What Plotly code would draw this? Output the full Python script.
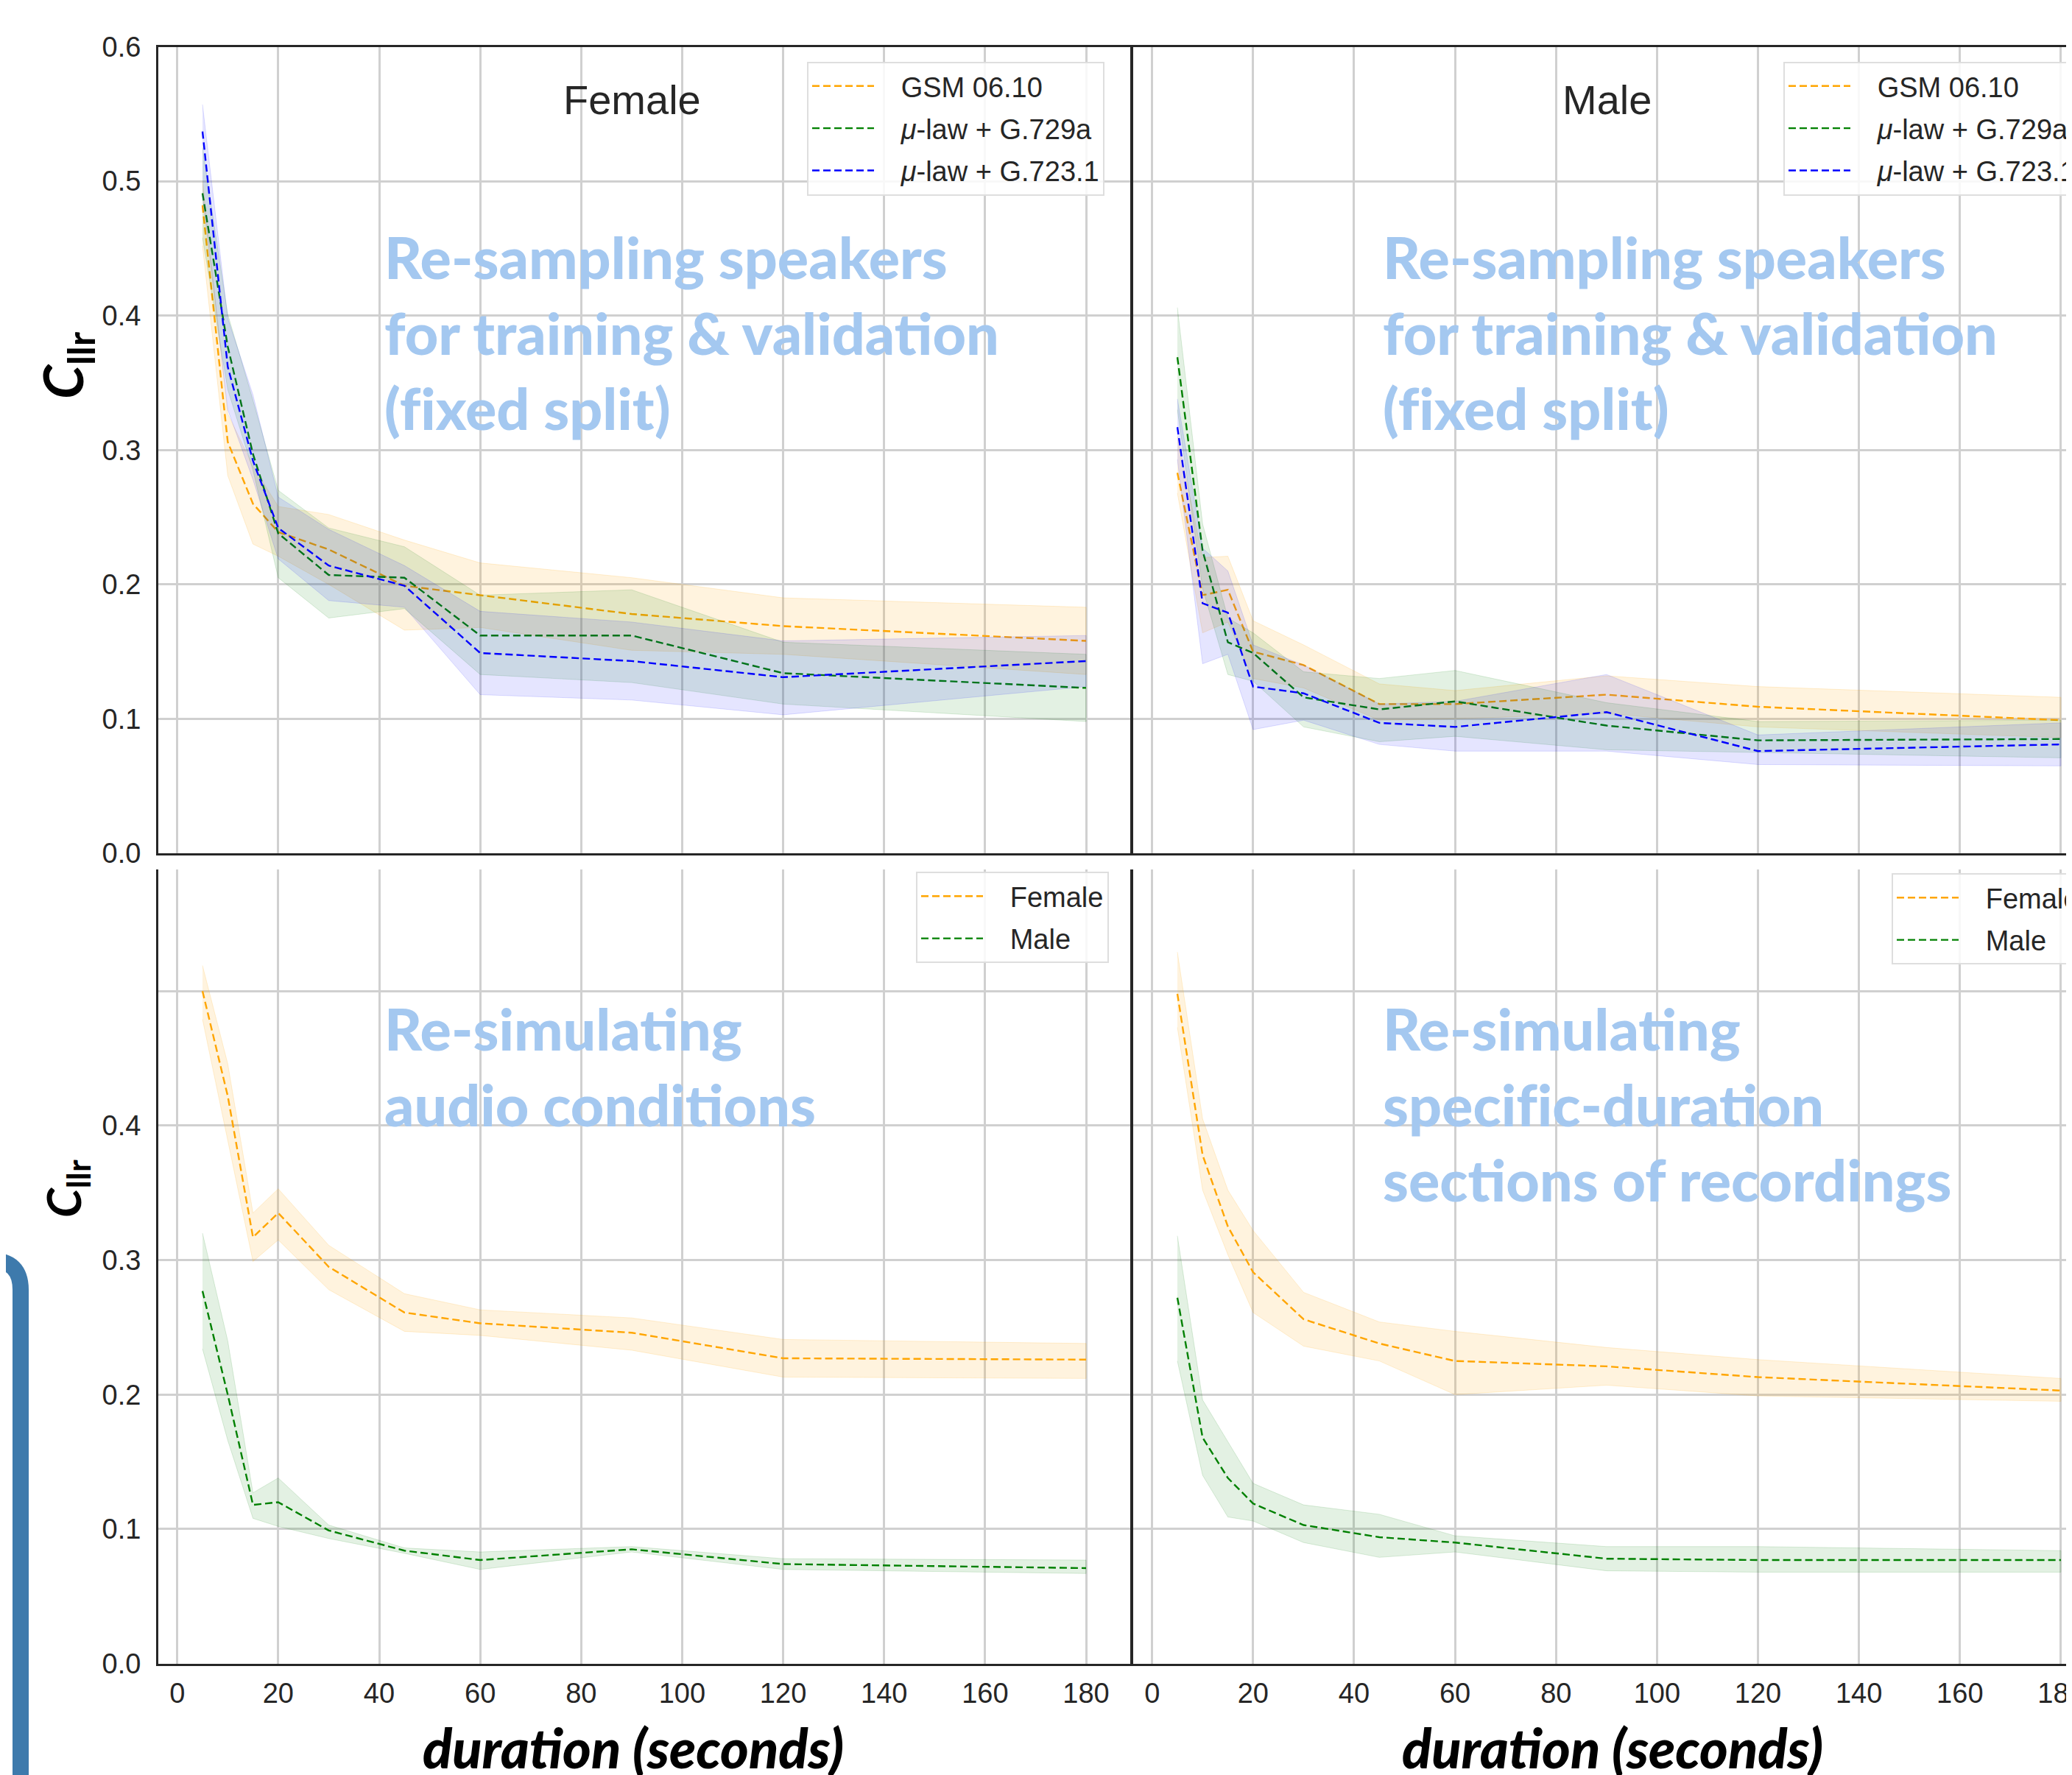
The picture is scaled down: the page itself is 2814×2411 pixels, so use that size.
import plotly.graph_objects as go

W, H = 2814, 2411
PAGE_OFFSET = 8  # default body margin of the html page

# ---------------- data ----------------
DURATION = [5, 10, 15, 20, 30, 45, 60, 90, 120, 180]
X_TICKS = [0, 20, 40, 60, 80, 100, 120, 140, 160, 180]
Y_TICKS_TOP = [0.0, 0.1, 0.2, 0.3, 0.4, 0.5, 0.6]
Y_TEXT_TOP = ["0.0", "0.1", "0.2", "0.3", "0.4", "0.5", "0.6"]
Y_TICKS_BOTTOM = [0.0, 0.1, 0.2, 0.3, 0.4]
Y_TEXT_BOTTOM = ["0.0", "0.1", "0.2", "0.3", "0.4"]
Y_GRID_BOTTOM_EXTRA = [0.5]

CODEC_NAMES = ["GSM 06.10", "<i>μ</i>-law + G.729a", "<i>μ</i>-law + G.723.1"]
SEX_NAMES = ["Female", "Male"]

# top-left: female, re-sampling speakers
gsm_f = [0.482, 0.306, 0.260, 0.239, 0.226, 0.199, 0.192, 0.178, 0.169, 0.158]
gsm_f_lo = [0.452, 0.281, 0.230, 0.221, 0.200, 0.166, 0.168, 0.151, 0.148, 0.133]
gsm_f_hi = [0.500, 0.327, 0.288, 0.258, 0.252, 0.233, 0.216, 0.205, 0.190, 0.183]
g729_f = [0.491, 0.377, 0.297, 0.238, 0.207, 0.205, 0.162, 0.162, 0.134, 0.123]
g729_f_lo = [0.458, 0.345, 0.285, 0.205, 0.175, 0.182, 0.133, 0.127, 0.111, 0.098]
g729_f_hi = [0.525, 0.401, 0.337, 0.270, 0.242, 0.228, 0.192, 0.196, 0.157, 0.148]
g723_f = [0.537, 0.362, 0.292, 0.242, 0.214, 0.199, 0.149, 0.143, 0.131, 0.143]
g723_f_lo = [0.490, 0.330, 0.278, 0.219, 0.188, 0.183, 0.118, 0.114, 0.103, 0.124]
g723_f_hi = [0.557, 0.398, 0.341, 0.265, 0.241, 0.214, 0.180, 0.172, 0.158, 0.162]

# top-right: male, re-sampling speakers
gsm_m = [0.283, 0.192, 0.196, 0.150, 0.140, 0.111, 0.111, 0.118, 0.109, 0.099]
gsm_m_lo = [0.268, 0.164, 0.172, 0.130, 0.123, 0.099, 0.100, 0.104, 0.094, 0.086]
gsm_m_hi = [0.310, 0.220, 0.221, 0.173, 0.155, 0.126, 0.121, 0.132, 0.124, 0.116]
g729_m = [0.369, 0.225, 0.157, 0.149, 0.116, 0.107, 0.113, 0.095, 0.084, 0.085]
g729_m_lo = [0.330, 0.197, 0.133, 0.128, 0.094, 0.083, 0.087, 0.077, 0.075, 0.071]
g729_m_hi = [0.406, 0.245, 0.175, 0.164, 0.135, 0.130, 0.136, 0.112, 0.098, 0.099]
g723_m = [0.317, 0.186, 0.179, 0.124, 0.119, 0.097, 0.094, 0.105, 0.076, 0.081]
g723_m_lo = [0.293, 0.141, 0.148, 0.092, 0.099, 0.081, 0.076, 0.076, 0.066, 0.065]
g723_m_hi = [0.338, 0.227, 0.210, 0.155, 0.140, 0.111, 0.113, 0.133, 0.088, 0.097]

# bottom-left: re-simulating audio conditions
ac_f = [0.500, 0.422, 0.317, 0.335, 0.295, 0.261, 0.253, 0.246, 0.227, 0.226]
ac_f_lo = [0.479, 0.389, 0.299, 0.315, 0.278, 0.247, 0.244, 0.233, 0.213, 0.212]
ac_f_hi = [0.519, 0.446, 0.335, 0.353, 0.311, 0.275, 0.263, 0.257, 0.241, 0.238]
ac_m = [0.277, 0.200, 0.118, 0.120, 0.099, 0.084, 0.077, 0.085, 0.074, 0.071]
ac_m_lo = [0.234, 0.166, 0.108, 0.102, 0.093, 0.082, 0.070, 0.083, 0.070, 0.067]
ac_m_hi = [0.320, 0.240, 0.127, 0.138, 0.103, 0.086, 0.083, 0.087, 0.078, 0.077]

# bottom-right: re-simulating specific-duration sections
sd_f = [0.498, 0.378, 0.325, 0.291, 0.256, 0.238, 0.225, 0.221, 0.213, 0.203]
sd_f_lo = [0.473, 0.352, 0.304, 0.261, 0.236, 0.225, 0.200, 0.207, 0.199, 0.195]
sd_f_hi = [0.529, 0.405, 0.352, 0.322, 0.276, 0.254, 0.247, 0.235, 0.226, 0.212]
sd_m = [0.272, 0.168, 0.138, 0.119, 0.103, 0.094, 0.090, 0.078, 0.077, 0.077]
sd_m_lo = [0.225, 0.140, 0.109, 0.106, 0.090, 0.079, 0.083, 0.069, 0.068, 0.068]
sd_m_hi = [0.318, 0.196, 0.165, 0.134, 0.118, 0.111, 0.095, 0.087, 0.087, 0.084]

# ---------------- styles ----------------
ORANGE = (255, 165, 0)
GREEN = (0, 128, 0)
BLUE = (0, 0, 255)
BAND_ALPHA = {ORANGE: 0.13, GREEN: 0.11, BLUE: 0.10}
SANS = "Liberation Sans, Arial, sans-serif"
HUMANIST = "Lato, Open Sans, sans-serif"
INK = "#262626"
NOTE_COLOR = "rgb(164,200,240)"
ZWNJ = "\u200c"  # keeps "f" and "i" as separate glyphs
LEGEND_PAD = "\u00a0\u00a0\u00a0"  # gap between legend line and label


def px(x):
    return (x - PAGE_OFFSET) / W


def py(y):
    return 1 - (y - PAGE_OFFSET) / H


fig = go.Figure()
_group = [0]


def add_series(mean, lo, hi, rgb, name, xa, ya, legend):
    a = BAND_ALPHA[rgb]
    band = "rgba(%d,%d,%d,%.3f)" % (rgb + (a,))
    fig.add_trace(go.Scatter(
        x=DURATION + DURATION[::-1], y=hi + lo[::-1],
        fill="toself", fillcolor=band, mode="lines",
        line=dict(width=1, color="rgba(%d,%d,%d,%.3f)" % (rgb + (a * 1.3,))),
        hoverinfo="skip", showlegend=False, xaxis=xa, yaxis=ya))
    _group[0] += 1
    fig.add_trace(go.Scatter(
        x=DURATION, y=mean, mode="lines", name=LEGEND_PAD + name,
        line=dict(color="rgb(%d,%d,%d)" % rgb, width=2.4, dash="10px,5px"),
        xaxis=xa, yaxis=ya, legend=legend, legendgroup="g%d" % _group[0]))


add_series(gsm_f, gsm_f_lo, gsm_f_hi, ORANGE, CODEC_NAMES[0], "x", "y", "legend")
add_series(g729_f, g729_f_lo, g729_f_hi, GREEN, CODEC_NAMES[1], "x", "y", "legend")
add_series(g723_f, g723_f_lo, g723_f_hi, BLUE, CODEC_NAMES[2], "x", "y", "legend")

add_series(gsm_m, gsm_m_lo, gsm_m_hi, ORANGE, CODEC_NAMES[0], "x2", "y2", "legend2")
add_series(g729_m, g729_m_lo, g729_m_hi, GREEN, CODEC_NAMES[1], "x2", "y2", "legend2")
add_series(g723_m, g723_m_lo, g723_m_hi, BLUE, CODEC_NAMES[2], "x2", "y2", "legend2")

add_series(ac_f, ac_f_lo, ac_f_hi, ORANGE, SEX_NAMES[0], "x3", "y3", "legend3")
add_series(ac_m, ac_m_lo, ac_m_hi, GREEN, SEX_NAMES[1], "x3", "y3", "legend3")

add_series(sd_f, sd_f_lo, sd_f_hi, ORANGE, SEX_NAMES[0], "x4", "y4", "legend4")
add_series(sd_m, sd_m_lo, sd_m_hi, GREEN, SEX_NAMES[1], "x4", "y4", "legend4")

# ---------------- axes ----------------
X_LEFT = [px(215), px(1535)]
X_RIGHT = [px(1539), 1.0]
Y_TOP = [py(1159), py(63.5)]
Y_BOTTOM = [py(2259.7), py(1181)]
RANGE_LEFT = [-3.75, 188.75]
RANGE_RIGHT = [-3.75, 183.36]
GRID = "#d0d0d0"

tickfont = dict(family=SANS, size=38, color=INK)
common = dict(showgrid=True, gridcolor=GRID, gridwidth=2.5, zeroline=False,
              showline=True, linecolor=INK, linewidth=3, ticks="",
              tickfont=tickfont, ticklabeloverflow="allow")
extra_grid = dict(tickvals=Y_GRID_BOTTOM_EXTRA, showgrid=True, gridcolor=GRID,
                  gridwidth=2.5, ticks="")

fig.update_layout(
    xaxis=dict(domain=X_LEFT, range=RANGE_LEFT, tickvals=X_TICKS, showticklabels=False,
               mirror=True, anchor="y", **common),
    yaxis=dict(domain=Y_TOP, range=[0, 0.6], tickvals=Y_TICKS_TOP, ticktext=Y_TEXT_TOP,
               mirror=True, anchor="x", ticklabelstandoff=13, **common),
    xaxis2=dict(domain=X_RIGHT, range=RANGE_RIGHT, tickvals=X_TICKS, showticklabels=False,
                mirror=True, anchor="y2", **common),
    yaxis2=dict(domain=Y_TOP, range=[0, 0.6], tickvals=Y_TICKS_TOP, showticklabels=False,
                mirror=False, anchor="x2", **common),
    xaxis3=dict(domain=X_LEFT, range=RANGE_LEFT, tickvals=X_TICKS, mirror=False,
                anchor="y3", ticklabelstandoff=5, **common),
    yaxis3=dict(domain=Y_BOTTOM, range=[0, 0.5904], tickvals=Y_TICKS_BOTTOM,
                ticktext=Y_TEXT_BOTTOM, mirror=True, anchor="x3", ticklabelstandoff=13,
                minor=extra_grid, **common),
    xaxis4=dict(domain=X_RIGHT, range=RANGE_RIGHT, tickvals=X_TICKS, mirror=False,
                anchor="y4", ticklabelstandoff=5, **common),
    yaxis4=dict(domain=Y_BOTTOM, range=[0, 0.5904], tickvals=Y_TICKS_BOTTOM,
                showticklabels=False, mirror=False, anchor="x4", minor=extra_grid,
                **common),
)

legend_style = dict(bgcolor="rgba(255,255,255,0.85)", bordercolor="#dedede", borderwidth=2,
                    font=dict(family=SANS, size=38, color=INK), xanchor="left",
                    yanchor="top", itemwidth=84, tracegroupgap=5)
fig.update_layout(
    legend=dict(x=px(1096), y=py(83.5), **legend_style),
    legend2=dict(x=px(2422), y=py(83.5), **legend_style),
    legend3=dict(x=px(1244), y=py(1184), **legend_style),
    legend4=dict(x=px(2569), y=py(1186), **legend_style),
)

# ---------------- annotations ----------------
ann = []
for label, cx in (("Female", 858), ("Male", 2182)):
    ann.append(dict(text=label, x=px(cx), y=py(136), xref="paper", yref="paper",
                    xanchor="center", yanchor="middle", showarrow=False,
                    font=dict(family=SANS, size=56, color=INK)))

split_note = ("Re-sampling speakers<br>for training &amp; validation<br>(f" + ZWNJ +
              "ixed split)")
notes = [
    (split_note, 520, 299),
    (split_note, 1876, 299),
    ("Re-simulating<br>audio conditions", 520, 1347),
    ("Re-simulating<br>specif" + ZWNJ + "ic-duration<br>sections of recordings", 1876, 1347),
]
for txt, x0, y0 in notes:
    ann.append(dict(text=txt, x=px(x0), y=py(y0), xref="paper", yref="paper",
                    xanchor="left", yanchor="top", align="left", showarrow=False,
                    font=dict(family=HUMANIST, size=79, color=NOTE_COLOR, weight=900)))

for cy, size in ((496, 74), (1615, 64)):
    ann.append(dict(text="<b><i>C</i><sub>llr</sub></b>", x=px(90), y=py(cy),
                    xref="paper", yref="paper", xanchor="center", yanchor="middle",
                    textangle=-90, showarrow=False,
                    font=dict(family=HUMANIST, size=size, color="black")))

for cx in (860, 2190):
    ann.append(dict(text="<i>duration (seconds)</i>", x=px(cx), y=py(2327),
                    xref="paper", yref="paper", xanchor="center", yanchor="top",
                    showarrow=False,
                    font=dict(family=HUMANIST, size=74, color="black", weight=900)))


# decorative bracket from the composite figure (left edge)
def P(x, y):
    return "%.5f,%.5f" % (px(x), py(y))


bracket = "M %s L %s Q %s %s L %s" % (P(-40, 1712), P(-12, 1712), P(28, 1712),
                                      P(28, 1752), P(28, 2460))

fig.update_layout(
    annotations=ann,
    shapes=[dict(type="path", path=bracket, xref="paper", yref="paper",
                 line=dict(color="rgb(62,122,172)", width=22))],
    width=W, height=H,
    margin=dict(l=0, r=0, t=0, b=0, pad=0, autoexpand=False),
    paper_bgcolor="white", plot_bgcolor="white",
    font=dict(family=SANS, color=INK),
)

fig.write_html("out.html")
